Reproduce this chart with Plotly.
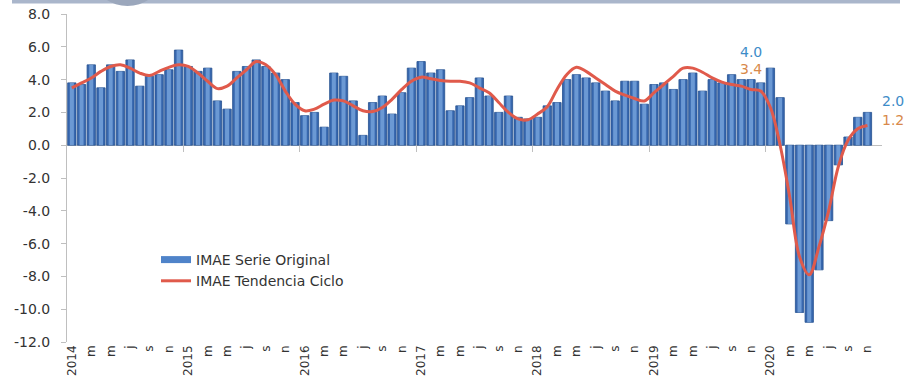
import plotly.graph_objects as go

# IMAE monthly growth (%), Jan 2014 - Nov 2020
years = [2014, 2015, 2016, 2017, 2018, 2019, 2020]
month_letters = ["e", "f", "m", "a", "m", "j", "j", "a", "s", "o", "n", "d"]
y_ticks = [8, 6, 4, 2, 0, -2, -4, -6, -8, -10, -12]

imae_original = [
    3.8, 3.7, 4.9, 3.5, 4.9, 4.5, 5.2, 3.6, 4.2, 4.3, 4.6, 5.8,   # 2014
    4.8, 4.5, 4.7, 2.7, 2.2, 4.5, 4.8, 5.2, 4.8, 4.4, 4.0, 2.6,   # 2015
    1.8, 2.0, 1.1, 4.4, 4.2, 2.7, 0.6, 2.6, 3.0, 1.9, 3.2, 4.7,   # 2016
    5.1, 4.4, 4.6, 2.1, 2.4, 2.9, 4.1, 3.0, 2.0, 3.0, 1.7, 1.6,   # 2017
    1.7, 2.4, 2.6, 4.0, 4.3, 4.1, 3.8, 3.3, 2.7, 3.9, 3.9, 2.5,   # 2018
    3.7, 3.8, 3.4, 4.0, 4.4, 3.3, 4.0, 3.8, 4.3, 4.0, 4.0, 3.8,   # 2019
    4.7, 2.9, -4.8, -10.2, -10.8, -7.6, -4.6, -1.2, 0.5, 1.7, 2.0,  # 2020
]

imae_tendencia = [
    3.5, 3.8, 4.1, 4.5, 4.8, 4.9, 4.7, 4.4, 4.25, 4.5, 4.75, 4.9,   # 2014
    4.8, 4.4, 3.9, 3.45, 3.6, 4.1, 4.6, 5.1, 4.9, 4.3, 3.3, 2.5,    # 2015
    2.1, 2.2, 2.5, 2.75, 2.7, 2.4, 2.1, 2.05, 2.3, 2.8, 3.4, 3.9,   # 2016
    4.15, 4.05, 3.95, 3.9, 3.9, 3.8, 3.5, 3.2, 2.6, 2.0, 1.6, 1.55, # 2017
    1.9, 2.35, 3.4, 4.3, 4.75, 4.5, 4.1, 3.7, 3.3, 3.05, 2.85, 2.7, # 2018
    3.2, 3.7, 4.2, 4.7, 4.7, 4.45, 4.1, 3.85, 3.7, 3.6, 3.4, 3.3,   # 2019
    2.3, 0.0, -3.2, -6.8, -7.9, -6.2, -4.0, -1.3, 0.3, 1.0, 1.2,    # 2020
]

x_idx = list(range(len(imae_original)))

# Tick labels every two months: the year in January, month initial otherwise
tickvals = [i for i in x_idx if i % 2 == 0]
ticktext = [str(years[i // 12]) if i % 12 == 0 else month_letters[i % 12] for i in tickvals]
year_bounds = [i - 0.5 for i in x_idx if i % 12 == 0 and i > 0]

FONT = "DejaVu Sans"
TXT = "#333333"
BLUE_LBL = "#3d8cc8"
ORANGE_LBL = "#d8894a"
LINE_RED = "#e05a4b"

# plot-area geometry (pixels) used for the decorative header band
L, R, T, B, W, H = 67, 24, 14, 42, 906, 384
PW, PH = W - L - R, H - T - B


def px(xp):
    return (xp - L) / PW


def py(yp):
    return (H - B - yp) / PH


fig = go.Figure()

# legend proxy for the bar series (wide rectangle swatch)
fig.add_trace(go.Scatter(
    x=[None], y=[None], mode="lines", name="IMAE Serie Original",
    line=dict(color="#4f83c9", width=7),
))

# bars: dark body with a lighter inner highlight
fig.add_trace(go.Bar(
    x=x_idx, y=imae_original, width=0.86, showlegend=False,
    marker=dict(color="#3767ae", line=dict(color="#26508f", width=0.8)),
    hoverinfo="skip",
))
fig.add_trace(go.Bar(
    x=x_idx, y=imae_original, width=0.42, showlegend=False,
    marker=dict(color="#7eaae0", opacity=0.75, line=dict(width=0)),
    hoverinfo="skip",
))

fig.add_trace(go.Scatter(
    x=x_idx, y=imae_tendencia, mode="lines", name="IMAE Tendencia Ciclo",
    line=dict(color=LINE_RED, width=3, shape="spline", smoothing=1.0),
))

# value labels
last = len(imae_original) - 1
nov19 = 70
annos = [
    dict(x=nov19, y=imae_original[nov19], text=f"{imae_original[nov19]:.1f}", color=BLUE_LBL, yshift=28, xshift=0),
    dict(x=nov19, y=imae_tendencia[nov19], text=f"{imae_tendencia[nov19]:.1f}", color=ORANGE_LBL, yshift=20, xshift=0),
    dict(x=last, y=imae_original[last], text=f"{imae_original[last]:.1f}", color=BLUE_LBL, yshift=11, xshift=26),
    dict(x=last, y=imae_tendencia[last], text=f"{imae_tendencia[last]:.1f}", color=ORANGE_LBL, yshift=6, xshift=26),
]
for a in annos:
    fig.add_annotation(
        x=a["x"], y=a["y"], xref="x", yref="y", text=a["text"], showarrow=False,
        xshift=a["xshift"], yshift=a["yshift"],
        font=dict(family=FONT, size=14, color=a["color"]),
    )

# decorative header band of the slide
fig.add_shape(type="rect", xref="paper", yref="paper",
              x0=px(12), x1=px(900), y0=py(3.5), y1=py(-4),
              fillcolor="#aab6cb", line=dict(width=0), layer="above")
fig.add_shape(type="circle", xref="paper", yref="paper",
              x0=px(97), x1=px(158), y0=py(6), y1=py(-40),
              fillcolor="#9ba7bc", line=dict(width=0), layer="above")

fig.update_layout(
    width=W, height=H,
    margin=dict(l=L, r=R, t=T, b=B, autoexpand=False),
    paper_bgcolor="white", plot_bgcolor="white",
    barmode="overlay",
    font=dict(family=FONT, color=TXT),
    legend=dict(
        x=px(156), y=py(244), xanchor="left", yanchor="top",
        bgcolor="rgba(0,0,0,0)", font=dict(family=FONT, size=14, color=TXT),
        tracegroupgap=0, itemwidth=30,
    ),
    xaxis=dict(
        range=[-0.5, 83.5], tickmode="array", tickvals=tickvals, ticktext=ticktext,
        tickangle=-90, tickfont=dict(family=FONT, size=12, color=TXT),
        showgrid=False, showline=False, zeroline=False, ticks="", automargin=False,
    ),
    xaxis2=dict(
        range=[-0.5, 83.5], overlaying="x", anchor="free", position=py(145),
        tickmode="array", tickvals=year_bounds, ticks="outside", ticklen=6,
        tickcolor="#bfbfbf", showticklabels=False, showgrid=False,
        showline=False, zeroline=False,
    ),
    yaxis=dict(
        range=[-12, 8], tickmode="array", tickvals=y_ticks,
        ticktext=[f"{v:.1f}" for v in y_ticks],
        tickfont=dict(family=FONT, size=14, color=TXT),
        showgrid=False, showline=True, linecolor="#bfbfbf", linewidth=1,
        ticks="outside", ticklen=5, tickcolor="#bfbfbf",
        ticklabelstandoff=8,
        zeroline=True, zerolinecolor="#bfbfbf", zerolinewidth=1,
        automargin=False,
    ),
)

# dummy trace so xaxis2 is rendered with its year separators
fig.add_trace(go.Scatter(x=[None], y=[None], xaxis="x2", showlegend=False, hoverinfo="skip"))

fig.write_html("out.html")
